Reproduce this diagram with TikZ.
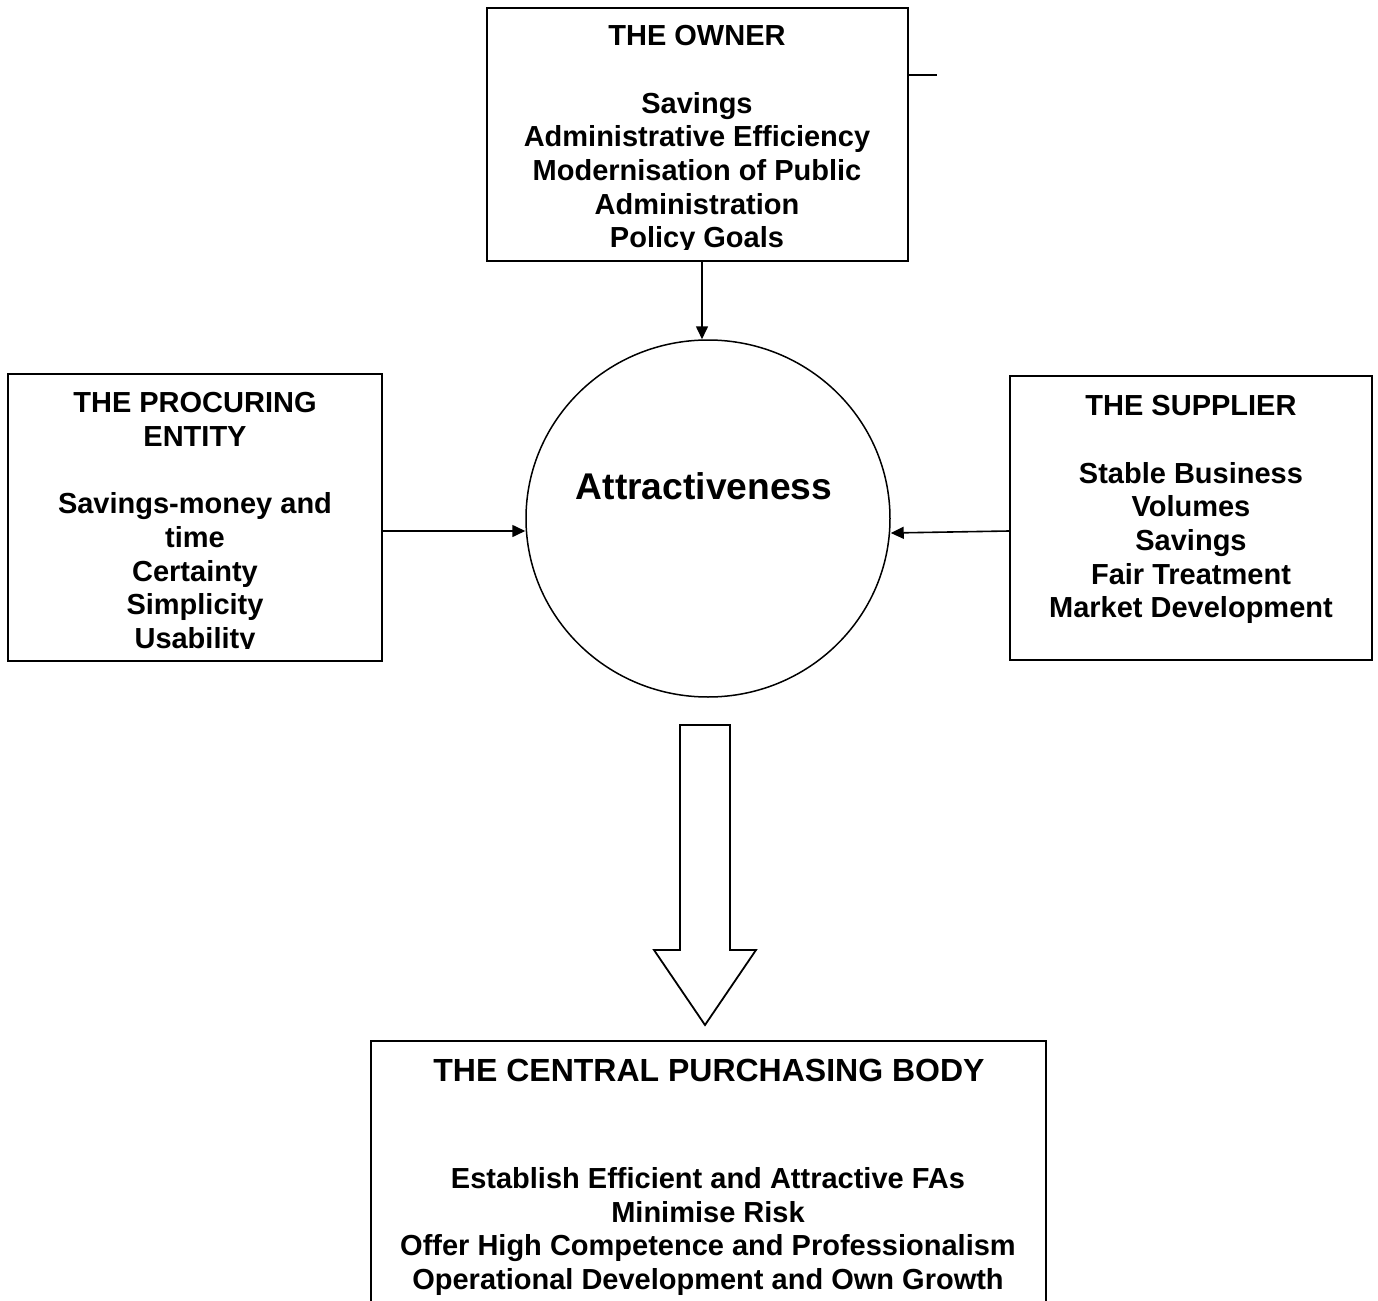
\documentclass[tikz,border=0pt]{standalone}
\usepackage{fontspec}
\setmainfont{Liberation Sans}
\usetikzlibrary{arrows.meta,calc,shapes.geometric}
\begin{document}
\begin{tikzpicture}[x=0.5pt,y=-0.5pt,
  box/.style={draw,line width=1pt,rectangle,inner sep=0pt},
  txt/.style={font=\fontsize{14.5}{16.85}\selectfont\bfseries,align=center,inner sep=0pt,anchor=north},
  arr/.style={line width=0.8pt,-{Triangle[length=6.5pt,width=6pt]}}]
\useasboundingbox[fill=white] (0,0) rectangle (1378,1301);

% stakeholder boxes
\node[box,minimum width=210.5pt,minimum height=126.5pt] (owner) at (697.5,134.5) {};
\node[box,minimum width=187pt,minimum height=143.5pt] (proc) at (195,517.5) {};
\node[box,minimum width=181pt,minimum height=142pt] (supp) at (1191,518) {};

% central ellipse
\node[draw,line width=0.75pt,ellipse,minimum width=182pt,minimum height=178.5pt,inner sep=0pt] (att) at (708,518.5) {};
\node[font=\fontsize{18.6}{22}\selectfont\bfseries,inner sep=0pt] (atttxt) at (704,486) {Attractiveness};

% box texts (last lines cut by the box edge)
\begin{scope}
  \clip (487,8) rectangle (908,249);
  \node[txt] (ownertxt) at (697,25) {THE OWNER\\~\\Savings\\Administrative Efficiency\\Modernisation of Public\\Administration\\Policy Goals};
\end{scope}
\begin{scope}
  \clip (8,374) rectangle (382,648);
  \node[txt] (proctxt) at (195,392) {THE PROCURING\\ENTITY\\~\\Savings-money and\\time\\Certainty\\Simplicity\\Usability};
\end{scope}
\node[txt] (supptxt) at (1191,395) {THE SUPPLIER\\~\\Stable Business\\Volumes\\Savings\\Fair Treatment\\Market Development};

% short tick on the owner box
\coordinate (tick) at (937,75);
\draw[line width=1pt] (owner.east |- tick) -- (tick);

% connectors into the ellipse
\draw[arr] ([xshift=2.25pt]owner.south) -- ([xshift=2.25pt]owner.south |- att.north);
\draw[arr] ($(proc.east)+(0,13.5)$) -- ($(att.west)+(0,12.5)$);
\draw[arr] ($(supp.west)+(0,13)$) -- ($(att.east)+(0,14.5)$);

% hollow block arrow down to the central purchasing body
\draw[line width=0.9pt,line join=miter] (680,725) -- (730,725) -- (730,950) -- (756,950) -- (705,1025) -- (654,950) -- (680,950) -- cycle;

% central purchasing body (runs off the bottom edge)
\coordinate (cpbtl) at (371,1041);
\coordinate (cpbtr) at (1046,1041);
\draw[line width=1pt] (cpbtl |- 0,1301) -- (cpbtl) -- (cpbtr) -- (cpbtr |- 0,1301);
\node[txt,font=\fontsize{16}{19}\selectfont\bfseries] (cpbtitle) at (709,1059) {THE CENTRAL PURCHASING BODY};
\node[txt] (cpbtxt) at (708,1167) {Establish Efficient and Attractive FAs\\Minimise Risk\\Offer High Competence and Professionalism\\Operational Development and Own Growth};
\end{tikzpicture}
\end{document}
